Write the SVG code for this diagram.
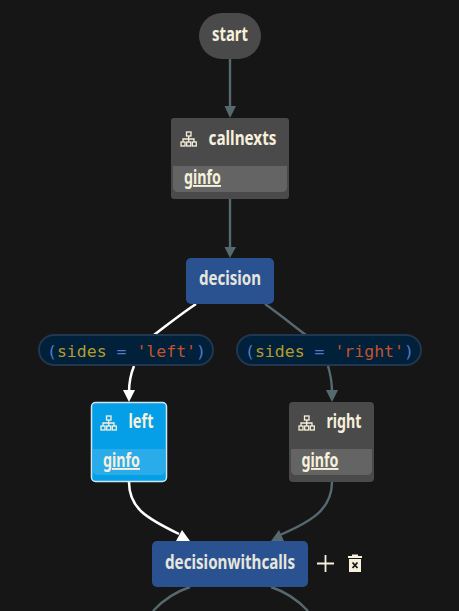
<svg xmlns="http://www.w3.org/2000/svg" width="459" height="611" viewBox="0 0 459 611">
<style>
.t{font-family:"Noto Sans","Liberation Sans",sans-serif;font-weight:700;font-size:19px;fill:#f7f0dc;text-anchor:middle}
.g{text-decoration:underline;text-anchor:start}
.c{fill:none;stroke:#55696f;stroke-width:2.400}
.w{fill:none;stroke:#fff;stroke-width:2.500}
.m{font-family:"DejaVu Sans Mono",monospace;font-size:16.500px}
.i{fill:none;stroke:#f7f0dc;stroke-width:1.300}
.p{fill:#01203a;stroke:#21374f;stroke-width:2}
</style>
<defs>
<g id="org"><rect x="6" y="0" width="4.500" height="4" class="i"/><path d="M8.200 4v3M2.500 10V7H13.500V10M8.200 7V10" class="i"/><rect x="0.500" y="10" width="4" height="4" class="i"/><rect x="6.200" y="10" width="4" height="4" class="i"/><rect x="11.800" y="10" width="4" height="4" class="i"/></g>
</defs>
<rect width="459" height="611" fill="#161616"/>
<g id="connectors">
<path class="c" d="M230 58V108"/><path fill="#55696f" d="M224.500 106H236L230 118Z"/>
<path class="c" d="M230 198V248"/><path fill="#55696f" d="M224.500 247H236L230 258Z"/>
<path class="w" d="M196 304C178 316 166 326 154 335"/>
<path class="w" d="M134 366C130 376 129 384 129 392"/><path fill="#fff" d="M123 390H135L129 402Z"/>
<path class="c" d="M265 304C282 316 295 327 306 335"/>
<path class="c" d="M328 366C331 376 332 384 332 392"/><path fill="#55696f" d="M326 390H338L332 402Z"/>
<path class="w" d="M129 482C129 508 146 518 179 534"/><path fill="#fff" d="M176 541L182 530L190 541Z"/>
<path class="c" d="M332 482C332 510 310 522 280 535"/><path fill="#55696f" d="M271 541L279 530L284 541Z"/>
<path class="c" d="M190 587C178 591 164 599 153 611"/>
<path class="c" d="M271 587C283 591 297 599 308 611"/>
</g>
<g id="start"><rect x="199" y="13" width="62" height="46" rx="23" fill="#4a4a4a"/><text class="t" x="230" y="41" textLength="36" lengthAdjust="spacingAndGlyphs">start</text></g>
<g id="callnexts"><rect x="171" y="118" width="118" height="81" rx="3" fill="#4a4a4a"/><path d="M173 166H287V187Q287 192 282 192H178Q173 192 173 187Z" fill="#646464"/><use href="#org" transform="translate(180.500 132)"/><text class="t" x="242.500" y="145" textLength="68" lengthAdjust="spacingAndGlyphs">callnexts</text><text class="t g" x="184" y="184" textLength="37" lengthAdjust="spacingAndGlyphs">ginfo</text></g>
<g id="decision"><rect x="186" y="258" width="88" height="46" rx="5" fill="#2a5291"/><text class="t" x="230" y="285" textLength="62" lengthAdjust="spacingAndGlyphs" style="fill:#e6e6dc">decision</text></g>
<g id="edge-left"><rect x="39" y="335" width="174" height="30" rx="15" class="p"/><text class="m" x="47" y="356.500"><tspan fill="#5478d0">(</tspan><tspan fill="#b59b2c">sides</tspan><tspan fill="#5478d0"> = </tspan><tspan fill="#c4532c">'left'</tspan><tspan fill="#5478d0">)</tspan></text></g>
<g id="edge-right"><rect x="237" y="335" width="184" height="30" rx="15" class="p"/><text class="m" x="245" y="356.500"><tspan fill="#5478d0">(</tspan><tspan fill="#b59b2c">sides</tspan><tspan fill="#5478d0"> = </tspan><tspan fill="#c4532c">'right'</tspan><tspan fill="#5478d0">)</tspan></text></g>
<g id="left"><rect x="91.500" y="402.500" width="75" height="79" rx="4" fill="#049fe6" stroke="#cfe6f2" stroke-width="1.500"/><path d="M93 449H165V470Q165 475 160 475H98Q93 475 93 470Z" fill="#2aaceb"/><use href="#org" transform="translate(100.500 416)"/><text class="t" x="141" y="428" textLength="25" lengthAdjust="spacingAndGlyphs">left</text><text class="t g" x="103" y="467" textLength="37" lengthAdjust="spacingAndGlyphs">ginfo</text></g>
<g id="right"><rect x="289" y="402" width="85" height="80" rx="4" fill="#4a4a4a"/><path d="M291 449H372V470Q372 475 367 475H296Q291 475 291 470Z" fill="#646464"/><use href="#org" transform="translate(298.500 416)"/><text class="t" x="344" y="428" textLength="35" lengthAdjust="spacingAndGlyphs">right</text><text class="t g" x="301.500" y="467" textLength="37" lengthAdjust="spacingAndGlyphs">ginfo</text></g>
<g id="decisionwithcalls"><rect x="152" y="541" width="156" height="46" rx="5" fill="#2a5291"/><text class="t" x="230" y="569" textLength="130" lengthAdjust="spacingAndGlyphs" style="fill:#e6e6dc">decisionwithcalls</text></g>
<g id="toolbar"><path d="M317 563.500H334M325.500 555V572" fill="none" stroke="#f7f0dc" stroke-width="1.800"/><path d="M348 556H362V558H348ZM352 554.500H358V556.500H352ZM349 559H361V572H349Z" fill="#f7f0dc"/><path d="M352.500 562.500L357.500 568M357.500 562.500L352.500 568" stroke="#161616" stroke-width="1.800"/></g>
</svg>
